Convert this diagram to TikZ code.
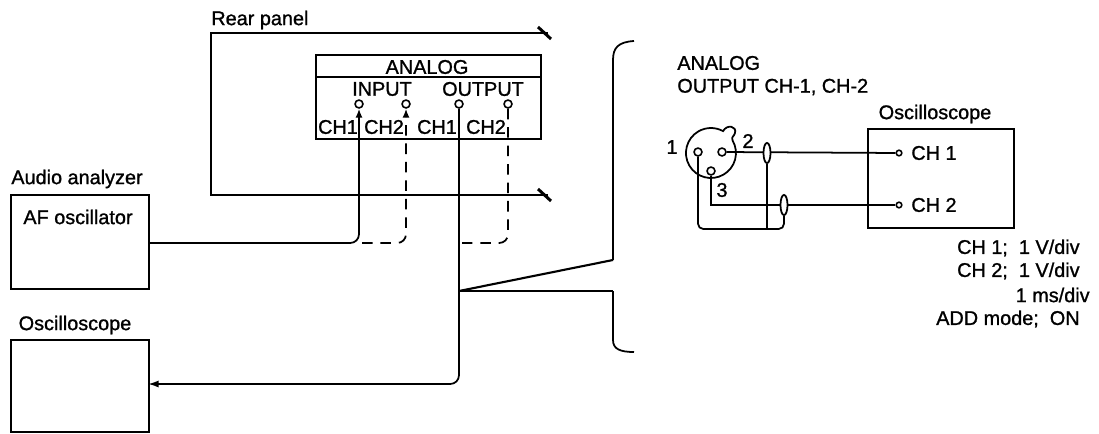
\documentclass[tikz,border=0pt]{standalone}
\usepackage{fontspec}
\setmainfont[FakeBold=1.1]{Liberation Sans}
\usetikzlibrary{arrows.meta,shapes.geometric}
\tikzset{
  lbl/.style={inner sep=0pt,font=\fontsize{11.3}{13}\selectfont},
  box/.style={draw,line width=1pt,anchor=north west,inner sep=0pt},
  wire/.style={line width=1pt,rounded corners=5pt},
  dashwire/.style={wire,dash pattern=on 6pt off 4.5pt},
  pin/.style={circle,draw,fill=white,line width=0.9pt,inner sep=0pt,minimum size=4.5pt},
  smallpin/.style={pin,minimum size=3.2pt},
  shield/.style={ellipse,draw,fill=white,line width=1pt,inner sep=0pt,minimum width=4pt,minimum height=11.5pt},
  panel/.style={line width=1.7pt}
}
\begin{document}
\begin{tikzpicture}[x=0.02cm,y=-0.02cm]
  \useasboundingbox (0,0) rectangle (1099,433);
  % rear panel
  \node[lbl,anchor=west] (rear) at (211,20) {Rear panel};
  \coordinate (pa) at (211,33);
  \coordinate (pb) at (211,195);
  \coordinate (pc) at (548,33);
  \coordinate (pd) at (548,195);
  \draw[panel] (pc) -- (pa) -- (pb) -- (pd);
  \draw[panel] ([shift={(-10,-6)}]pc) -- ([shift={(3,6)}]pc);
  \draw[panel] ([shift={(-10,-6)}]pd) -- ([shift={(3,6)}]pd);
  % analog block
  \node[box,minimum width=4.5cm,minimum height=1.68cm] (analog) at (315,54) {};
  \draw[line width=1.2pt] (315,77) -- (540,77);
  \node[lbl] (analogt) at (427,67) {ANALOG};
  \node[lbl] (inp) at (382,89) {INPUT};
  \node[lbl] (outp) at (483,89) {OUTPUT};
  \node[pin] (i1) at (359,104) {};
  \node[pin] (i2) at (406,104) {};
  \node[pin] (o1) at (459,104) {};
  \node[pin] (o2) at (508,104) {};
  \node[lbl] (c1) at (338,127) {CH1};
  \node[lbl] (c2) at (384,127) {CH2};
  \node[lbl] (c3) at (437,127) {CH1};
  \node[lbl] (c4) at (486,127) {CH2};
  % left instruments
  \node[lbl,anchor=west] (aud) at (11,179) {Audio analyzer};
  \node[box,minimum width=2.76cm,minimum height=1.88cm] (af) at (10,194) {};
  \node[lbl] (aft) at (78,217) {AF oscillator};
  \node[lbl] (osl) at (75,325) {Oscilloscope};
  \node[box,minimum width=2.76cm,minimum height=1.84cm] (osc) at (10,339) {};
  % wires
  \coordinate (afout) at (148,243);
  \coordinate (oscin) at (148,384);
  \draw[wire,-{Latex[length=5pt,width=4pt]}] (afout) -- (359,243) -- (i1);
  \draw[dashwire,-{Latex[length=5pt,width=4pt]}] (362,243) -- (406,243) -- (i2);
  \draw[wire,-{Latex[length=6pt,width=4pt]}] (o1) -- (459,384) -- (oscin);
  \draw[dashwire] (o2) -- (508,243) -- (462,243);
  % bracket
  \coordinate (tap) at (459,291);
  \draw[line width=1.2pt] (tap) -- (613,260);
  \draw[line width=1.2pt] (tap) -- (613,291);
  \draw[line width=1pt] (634,41) .. controls (618,42) and (613,48) .. (613,60) -- (613,260);
  \draw[line width=1pt] (613,291) -- (613,340) .. controls (613,349) and (620,352) .. (634,352);
  % detail
  \node[lbl,anchor=west] (dt) at (677,63) {ANALOG};
  \node[lbl,anchor=west] (dc) at (677,87) {OUTPUT CH-1, CH-2};
  \node[lbl] (n1) at (672,147) {1};
  \node[lbl] (n2) at (748,141) {2};
  \node[lbl] (n3) at (722,190) {3};
  \draw[line width=1pt] (732.6,140.5) arc[start angle=-30,end angle=299,radius=25]
    .. controls (727,124) and (737,126) .. (735,133) .. controls (734,137) and (731,136) .. (732.6,140.5);
  \node[pin] (p1) at (698,152) {};
  \node[pin] (p2) at (722,152) {};
  \node[pin] (p3) at (711,171) {};
  \node[lbl] (osr) at (935,114) {Oscilloscope};
  \node[box,minimum width=2.92cm,minimum height=1.98cm] (ods) at (867,128) {};
  \node[smallpin] (ch1) at (899,153) {};
  \node[smallpin] (ch2) at (899,205) {};
  \node[lbl,anchor=west] (t1) at (911,153) {CH 1};
  \node[lbl,anchor=west] (t2) at (911,205) {CH 2};
  \coordinate (bot) at (698,229);
  \draw[wire] (p2) -- (ch1);
  \draw[wire,sharp corners] (p3) -- (711,205) -- (ch2);
  \node[shield] (s1) at (767,153) {};
  \node[shield] (s2) at (784,205) {};
  \draw[wire,rounded corners=3pt] (p1) -- (bot) -- (s2 |- bot) -- (s2);
  \draw[wire] (s1) -- (s1 |- bot);
  % settings
  \node[lbl,anchor=east] (st1) at (1080,248) {CH 1;\ \ 1 V/div};
  \node[lbl,anchor=east] (st2) at (1080,271) {CH 2;\ \ 1 V/div};
  \node[lbl,anchor=east] (st3) at (1090,295) {1 ms/div};
  \node[lbl,anchor=east] (st4) at (1080,319) {ADD mode;\ \ ON};
\end{tikzpicture}
\end{document}
